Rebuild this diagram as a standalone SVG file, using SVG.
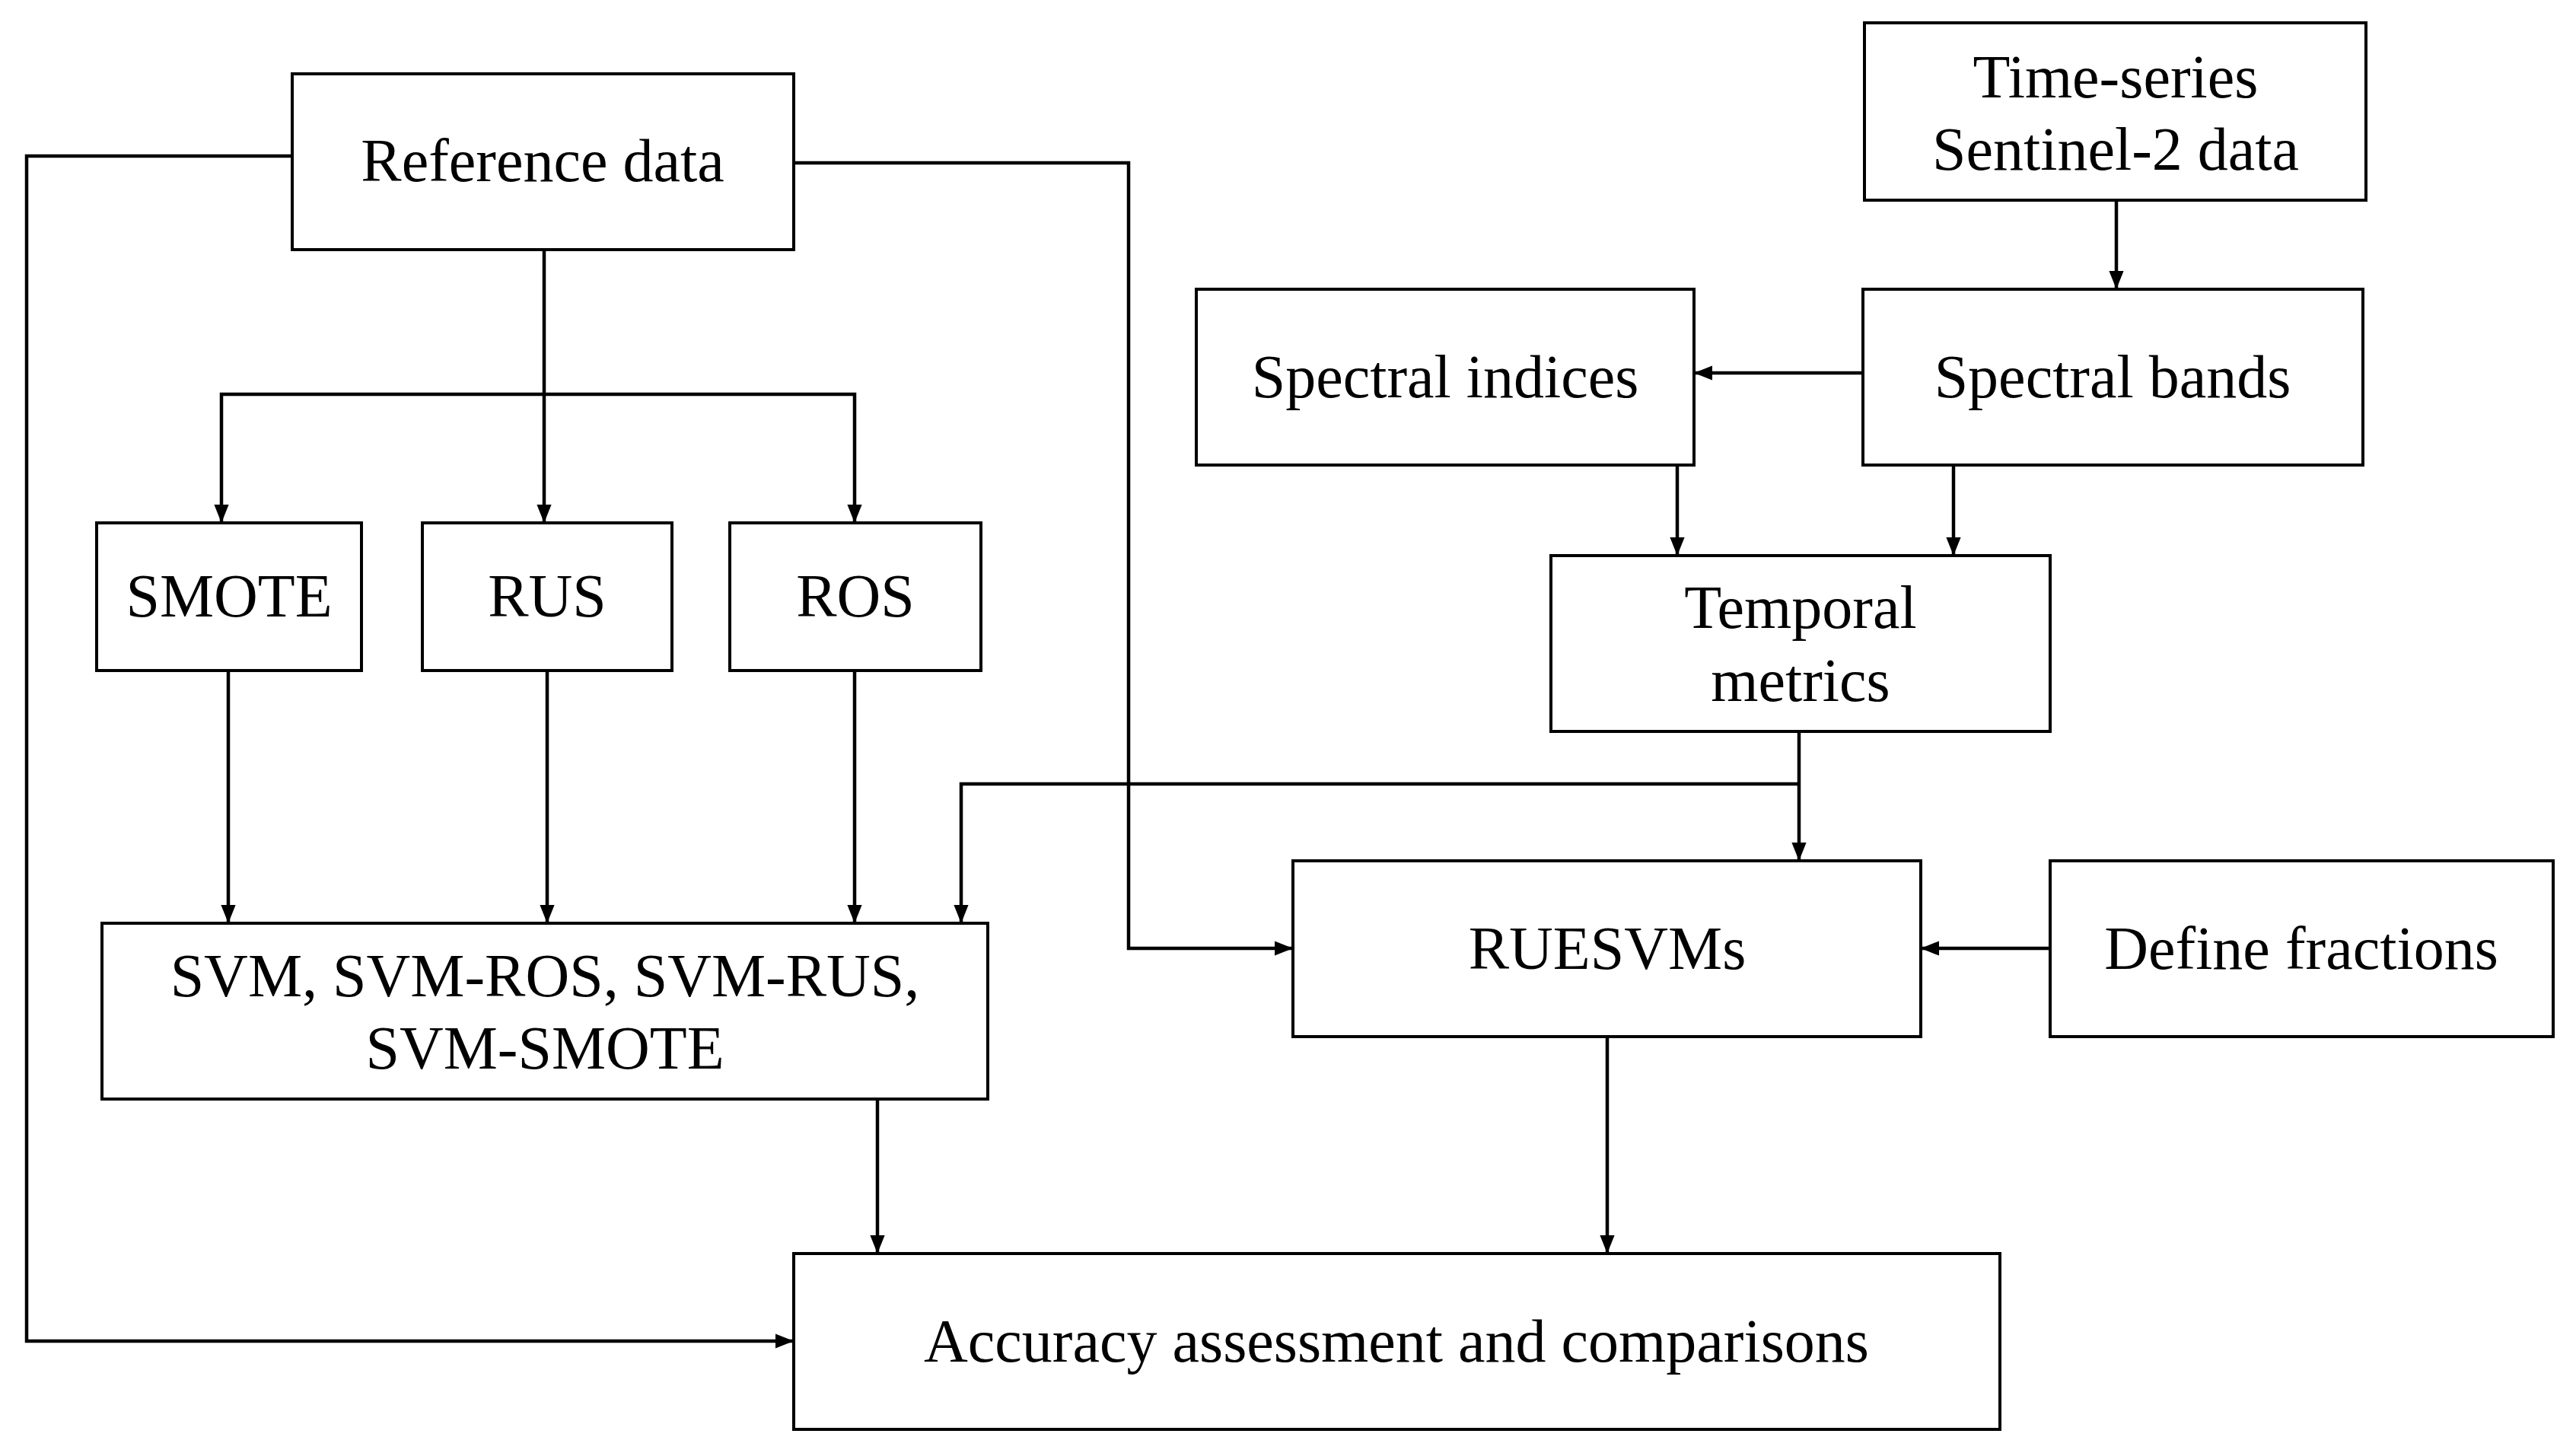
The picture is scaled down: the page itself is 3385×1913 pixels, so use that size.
<svg xmlns="http://www.w3.org/2000/svg" width="3385" height="1913" viewBox="0 0 3385 1913">
<style>
rect{fill:#fff;stroke:#000;stroke-width:4}
text{font-family:"Liberation Serif","DejaVu Serif",serif;font-size:80px;text-anchor:middle;fill:#000}
.c path{fill:none;stroke:#000;stroke-width:4.5;marker-end:url(#a)}
</style>
<defs><marker id="a" markerWidth="10" markerHeight="10" refX="9" refY="5" orient="auto" markerUnits="userSpaceOnUse" viewBox="0 0 10 10"><path d="M0,0L10,5L0,10z" fill="#000" transform="scale(1)"/></marker>
<marker id="b" viewBox="0 0 10 10" refX="10" refY="5" markerWidth="24" markerHeight="24" orient="auto" markerUnits="userSpaceOnUse"><path d="M0,1L10,5L0,9z"/></marker></defs>
<rect width="3385" height="1913" style="stroke:none"/>
<g class="c">
<path style="marker-end:url(#b)" d="M384,205H35V1762H1043"/>
<path style="marker-end:url(#b)" d="M1043,214H1483V1246H1699"/>
<path style="marker-end:url(#b)" d="M715,328V687"/>
<path style="marker-end:url(#b)" d="M715,518H291V687"/>
<path style="marker-end:url(#b)" d="M715,518H1123V687"/>
<path style="marker-end:url(#b)" d="M300,881V1213"/>
<path style="marker-end:url(#b)" d="M719,881V1213"/>
<path style="marker-end:url(#b)" d="M1123,881V1213"/>
<path style="marker-end:url(#b)" d="M2781,263V380"/>
<path style="marker-end:url(#b)" d="M2448,490H2226"/>
<path style="marker-end:url(#b)" d="M2204,611V730"/>
<path style="marker-end:url(#b)" d="M2567,611V730"/>
<path style="marker-end:url(#b)" d="M2364,961V1131"/>
<path style="marker-end:url(#b)" d="M2364,1030H1263V1213"/>
<path style="marker-end:url(#b)" d="M2694,1246H2524"/>
<path style="marker-end:url(#b)" d="M1153,1444V1647"/>
<path style="marker-end:url(#b)" d="M2112,1362V1647"/>
</g>
<g id="ref"><rect x="384" y="97" width="659" height="231"/><text x="713" y="238">Reference data</text></g>
<g id="ts"><rect x="2450" y="30" width="659" height="233"/><text x="2780" y="128">Time-series</text><text x="2780" y="223">Sentinel-2 data</text></g>
<g id="si"><rect x="1572" y="380" width="654" height="231"/><text x="1899" y="522">Spectral indices</text></g>
<g id="sb"><rect x="2448" y="380" width="657" height="231"/><text x="2776" y="522">Spectral bands</text></g>
<g id="smote"><rect x="127" y="687" width="348" height="194"/><text x="301" y="810">SMOTE</text></g>
<g id="rus"><rect x="555" y="687" width="328" height="194"/><text x="719" y="810">RUS</text></g>
<g id="ros"><rect x="959" y="687" width="330" height="194"/><text x="1124" y="810">ROS</text></g>
<g id="tm"><rect x="2038" y="730" width="656" height="231"/><text x="2366" y="825">Temporal</text><text x="2366" y="921">metrics</text></g>
<g id="svm"><rect x="134" y="1213" width="1164" height="231"/><text x="716" y="1309">SVM, SVM-ROS, SVM-RUS,</text><text x="716" y="1404">SVM-SMOTE</text></g>
<g id="rue"><rect x="1699" y="1131" width="825" height="231"/><text x="2112" y="1273">RUESVMs</text></g>
<g id="df"><rect x="2694" y="1131" width="661" height="231"/><text x="3024" y="1273">Define fractions</text></g>
<g id="acc"><rect x="1043" y="1647" width="1585" height="231"/><text x="1835" y="1789">Accuracy assessment and comparisons</text></g>
</svg>
